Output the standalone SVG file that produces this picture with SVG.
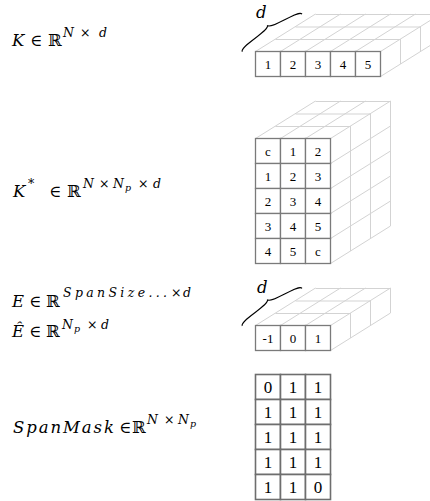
<svg xmlns="http://www.w3.org/2000/svg" width="430" height="501" viewBox="0 0 430 501">
<defs>
<style>
.bg{fill:#ffffff}
.back{stroke:#d3d3d3;stroke-width:1;fill:none}
.cell{fill:#ffffff;stroke:#7a7a7a;stroke-width:1.3}
.ctext{font-family:"Liberation Serif","DejaVu Serif",serif;font-size:13px;fill:#000;text-anchor:middle}
.mcell{fill:#ffffff;stroke:#6e6e6e;stroke-width:1.6}
.mtext{font-family:"Liberation Serif","DejaVu Serif",serif;font-size:17px;fill:#000;text-anchor:middle}
.brace{stroke:#000;stroke-width:1.1;fill:none}
.m{font-family:"DejaVu Serif","Liberation Serif",serif;font-size:16.5px;fill:#000}
.i{font-style:italic}
.sup{font-size:12.5px}
.sub{font-size:9.5px}
</style>
<path id="brace" d="M0,0 C0,-6 35.25,-3 35.25,-9 C35.25,-3 70.5,-6 70.5,0"/>
</defs>
<rect class="bg" x="0" y="0" width="430" height="501"/>

<g id="label-K">
<text class="m" y="46"><tspan class="i" x="12">K</tspan><tspan x="30">∈</tspan><tspan x="48">ℝ</tspan></text>
<text class="m sup" y="37"><tspan class="i" x="63">N</tspan><tspan x="80">×</tspan><tspan class="i" x="99">d</tspan></text>
</g>

<g id="label-Kstar">
<text class="m" y="197"><tspan class="i" x="13">K</tspan><tspan x="49">∈</tspan><tspan x="67">ℝ</tspan></text>
<text class="m sup" y="188"><tspan x="28">*</tspan><tspan class="i" x="83">N</tspan><tspan x="99">×</tspan><tspan class="i" x="113">N</tspan><tspan x="138">×</tspan><tspan class="i" x="153">d</tspan></text>
<text class="m sub i" x="125" y="191">p</text>
</g>

<g id="label-E">
<text class="m" y="307"><tspan class="i" x="12">E</tspan><tspan x="29">∈</tspan><tspan x="46">ℝ</tspan></text>
<text class="m sup" y="297"><tspan class="i" x="63" textLength="104" lengthAdjust="spacing">SpanSize...</tspan><tspan x="171">×</tspan><tspan class="i" x="183">d</tspan></text>
</g>

<g id="label-Ehat">
<text class="m" y="337"><tspan class="i" x="12">Ê</tspan><tspan x="29">∈</tspan><tspan x="46">ℝ</tspan></text>
<text class="m sup" y="329"><tspan class="i" x="62">N</tspan><tspan x="87">×</tspan><tspan class="i" x="101">d</tspan></text>
<text class="m sub i" x="74" y="332">p</text>
</g>

<g id="label-SpanMask">
<text class="m" y="433"><tspan class="i" x="13" textLength="101" lengthAdjust="spacing">SpanMask</tspan><tspan x="119">∈</tspan><tspan x="132">ℝ</tspan></text>
<text class="m sup" y="424"><tspan class="i" x="147">N</tspan><tspan x="164">×</tspan><tspan class="i" x="178">N</tspan></text>
<text class="m sub i" x="190" y="427">p</text>
</g>

<g id="tensor-K">
<g class="back">
<path d="M275.5,39.5H400.5M295.5,27H420.5M315.5,14.5H440.5"/>
<path d="M255.5,51.5l60,-37.5M280.5,51.5l60,-37.5M305.5,51.5l60,-37.5M330.5,51.5l60,-37.5M355.5,51.5l60,-37.5M380.5,51.5l60,-37.5"/>
<path d="M400.5,39V64M420.5,26.5V51.5M440.5,14V39"/>
<path d="M380.5,76.5l60,-37.5"/>
</g>
<rect class="cell" x="255.5" y="51.5" width="25" height="25"/>
<rect class="cell" x="280.5" y="51.5" width="25" height="25"/>
<rect class="cell" x="305.5" y="51.5" width="25" height="25"/>
<rect class="cell" x="330.5" y="51.5" width="25" height="25"/>
<rect class="cell" x="355.5" y="51.5" width="25" height="25"/>
<text class="ctext" x="268" y="68.5">1</text>
<text class="ctext" x="293" y="68.5">2</text>
<text class="ctext" x="318" y="68.5">3</text>
<text class="ctext" x="343" y="68.5">4</text>
<text class="ctext" x="368" y="68.5">5</text>
<use href="#brace" class="brace" transform="translate(242.3,51.7) rotate(-32.2)"/>
<text class="m i" x="256" y="18">d</text>
</g>

<g id="tensor-Kstar">
<g class="back">
<path d="M275.5,126.5H350.5M295.5,114H370.5M315.5,101.5H390.5"/>
<path d="M255.5,138.5l60,-37.5M280.5,138.5l60,-37.5M305.5,138.5l60,-37.5M330.5,138.5l60,-37.5"/>
<path d="M350.5,126V251M370.5,113.5V238.5M390.5,101V226"/>
<path d="M330.5,163.5l60,-37.5M330.5,188.5l60,-37.5M330.5,213.5l60,-37.5M330.5,238.5l60,-37.5M330.5,263.5l60,-37.5"/>
</g>
<g>
<rect class="cell" x="255.5" y="138.5" width="25" height="25"/><rect class="cell" x="280.5" y="138.5" width="25" height="25"/><rect class="cell" x="305.5" y="138.5" width="25" height="25"/>
<rect class="cell" x="255.5" y="163.5" width="25" height="25"/><rect class="cell" x="280.5" y="163.5" width="25" height="25"/><rect class="cell" x="305.5" y="163.5" width="25" height="25"/>
<rect class="cell" x="255.5" y="188.5" width="25" height="25"/><rect class="cell" x="280.5" y="188.5" width="25" height="25"/><rect class="cell" x="305.5" y="188.5" width="25" height="25"/>
<rect class="cell" x="255.5" y="213.5" width="25" height="25"/><rect class="cell" x="280.5" y="213.5" width="25" height="25"/><rect class="cell" x="305.5" y="213.5" width="25" height="25"/>
<rect class="cell" x="255.5" y="238.5" width="25" height="25"/><rect class="cell" x="280.5" y="238.5" width="25" height="25"/><rect class="cell" x="305.5" y="238.5" width="25" height="25"/>
</g>
<text class="ctext" x="268" y="155.5">c</text><text class="ctext" x="293" y="155.5">1</text><text class="ctext" x="318" y="155.5">2</text>
<text class="ctext" x="268" y="180.5">1</text><text class="ctext" x="293" y="180.5">2</text><text class="ctext" x="318" y="180.5">3</text>
<text class="ctext" x="268" y="205.5">2</text><text class="ctext" x="293" y="205.5">3</text><text class="ctext" x="318" y="205.5">4</text>
<text class="ctext" x="268" y="230.5">3</text><text class="ctext" x="293" y="230.5">4</text><text class="ctext" x="318" y="230.5">5</text>
<text class="ctext" x="268" y="255.5">4</text><text class="ctext" x="293" y="255.5">5</text><text class="ctext" x="318" y="255.5">c</text>
</g>

<g id="tensor-E">
<g class="back">
<path d="M275.5,313.5H350.5M295.5,301H370.5M315.5,288.5H390.5"/>
<path d="M255.5,325.5l60,-37.5M280.5,325.5l60,-37.5M305.5,325.5l60,-37.5M330.5,325.5l60,-37.5"/>
<path d="M350.5,313V338M370.5,300.5V325.5M390.5,288V313"/>
<path d="M330.5,350.5l60,-37.5"/>
</g>
<rect class="cell" x="255.5" y="325.5" width="25" height="25"/>
<rect class="cell" x="280.5" y="325.5" width="25" height="25"/>
<rect class="cell" x="305.5" y="325.5" width="25" height="25"/>
<text class="ctext" x="268" y="342.5">-1</text>
<text class="ctext" x="293" y="342.5">0</text>
<text class="ctext" x="318" y="342.5">1</text>
<use href="#brace" class="brace" transform="translate(242.3,325.9) rotate(-32.2)"/>
<text class="m i" x="257" y="293">d</text>
</g>

<g id="table-SpanMask">
<rect class="mcell" x="255.5" y="374.5" width="25" height="25"/><rect class="mcell" x="280.5" y="374.5" width="25" height="25"/><rect class="mcell" x="305.5" y="374.5" width="25" height="25"/>
<rect class="mcell" x="255.5" y="399.5" width="25" height="25"/><rect class="mcell" x="280.5" y="399.5" width="25" height="25"/><rect class="mcell" x="305.5" y="399.5" width="25" height="25"/>
<rect class="mcell" x="255.5" y="424.5" width="25" height="25"/><rect class="mcell" x="280.5" y="424.5" width="25" height="25"/><rect class="mcell" x="305.5" y="424.5" width="25" height="25"/>
<rect class="mcell" x="255.5" y="449.5" width="25" height="25"/><rect class="mcell" x="280.5" y="449.5" width="25" height="25"/><rect class="mcell" x="305.5" y="449.5" width="25" height="25"/>
<rect class="mcell" x="255.5" y="474.5" width="25" height="25"/><rect class="mcell" x="280.5" y="474.5" width="25" height="25"/><rect class="mcell" x="305.5" y="474.5" width="25" height="25"/>
<text class="mtext" x="268" y="393">0</text><text class="mtext" x="293" y="393">1</text><text class="mtext" x="318" y="393">1</text>
<text class="mtext" x="268" y="418">1</text><text class="mtext" x="293" y="418">1</text><text class="mtext" x="318" y="418">1</text>
<text class="mtext" x="268" y="443">1</text><text class="mtext" x="293" y="443">1</text><text class="mtext" x="318" y="443">1</text>
<text class="mtext" x="268" y="468">1</text><text class="mtext" x="293" y="468">1</text><text class="mtext" x="318" y="468">1</text>
<text class="mtext" x="268" y="493">1</text><text class="mtext" x="293" y="493">1</text><text class="mtext" x="318" y="493">0</text>
</g>
</svg>
